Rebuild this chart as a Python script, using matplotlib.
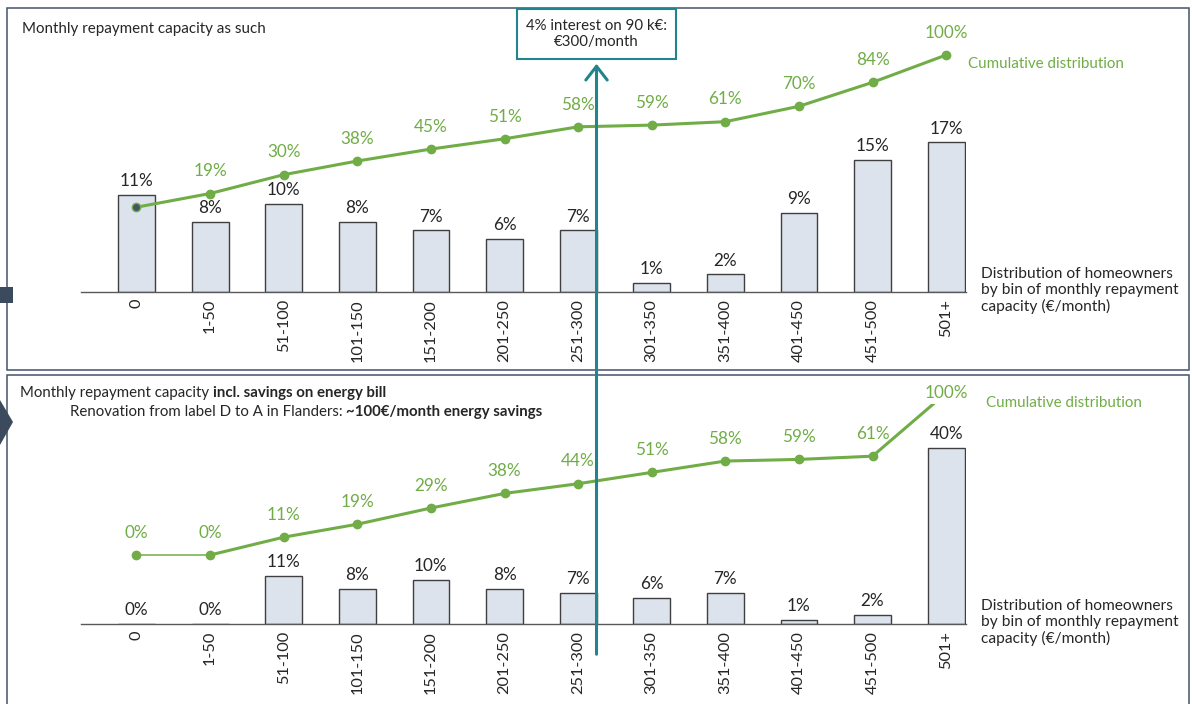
import numpy as np
import matplotlib
matplotlib.use('Agg')
from matplotlib import pyplot as plt
from matplotlib.patches import Rectangle, Polygon, FancyArrowPatch
from matplotlib.transforms import blended_transform_factory

plt.rcParams['font.family'] = ['Lato', 'DejaVu Sans']

# bins of monthly repayment capacity (EUR/month)
bins = ['0', '1-50', '51-100', '101-150', '151-200', '201-250', '251-300',
        '301-350', '351-400', '401-450', '451-500', '501+']

# share of homeowners per bin (%) and cumulative share (%)
share_as_such = [11, 8, 10, 8, 7, 6, 7, 1, 2, 9, 15, 17]
cum_as_such = [11, 19, 30, 38, 45, 51, 58, 59, 61, 70, 84, 100]
share_savings = [0, 0, 11, 8, 10, 8, 7, 6, 7, 1, 2, 40]
cum_savings = [0, 0, 11, 19, 29, 38, 44, 51, 58, 59, 61, 100]

threshold_bin = 6      # 251-300 bin, arrow sits on its upper edge (300 EUR)

W, H = 1192, 704
GREEN = '#70AD47'
TEAL = '#23858C'
FRAME = '#44546A'
BAR_FILL = '#DCE3ED'
BAR_EDGE = '#3F3F3F'
TXT = '#262626'
BAR_W = 0.5
FS_VAL = 12.3


def px_rect(left, top, right, bottom):
    return [left / W, 1 - bottom / H, (right - left) / W, (bottom - top) / H]


def fx(px):
    return px / W


def fy(py):
    return 1 - py / H


def draw_panel(fig, rect, shares, cum, bar_ylim, cum_ylim, first_dark):
    x = np.arange(len(bins))
    ax = fig.add_axes(rect)
    ax.bar(x, shares, width=BAR_W, color=BAR_FILL, edgecolor=BAR_EDGE, lw=1.0, zorder=2)
    ax.set_xlim(-0.754, 11.27)
    ax.set_ylim(*bar_ylim)
    for s in ['top', 'left', 'right']:
        ax.spines[s].set_visible(False)
    ax.spines['bottom'].set_color('#595959')
    ax.spines['bottom'].set_linewidth(1.0)
    ax.set_yticks([])
    ax.set_xticks(x, bins, rotation=90, fontsize=11.8, color=TXT)
    ax.tick_params(axis='x', length=0, pad=5)
    ax.patch.set_alpha(0)
    for i, v in enumerate(shares):
        ax.annotate(f'{v}%', (i, v), xytext=(0, 10), textcoords='offset points',
                    ha='center', va='center', fontsize=FS_VAL, color=TXT)

    ax2 = ax.twinx()
    ax2.set_ylim(*cum_ylim)
    ax2.axis('off')
    if first_dark:
        ax2.plot(x, cum, color=GREEN, lw=2.2, zorder=3)
        ax2.plot(x[1:], cum[1:], 'o', color=GREEN, ms=6, zorder=4)
        ax2.plot(x[:1], cum[:1], 'o', color=FRAME, mec=GREEN, ms=6, zorder=4)
    else:
        ax2.plot(x[:2], cum[:2], color=GREEN, lw=1.1, zorder=3)
        ax2.plot(x[1:], cum[1:], color=GREEN, lw=2.2, zorder=3)
        ax2.plot(x, cum, 'o', color=GREEN, ms=6, zorder=4)
    for i, v in enumerate(cum):
        if first_dark and i == 0:
            continue
        if not first_dark and i == len(cum) - 1:
            ax2.annotate(f'{v}%', (i, v), ha='center', va='center', fontsize=FS_VAL,
                         color=GREEN, zorder=5,
                         bbox=dict(boxstyle='square,pad=0.15', fc='white', ec='none'))
            continue
        ax2.annotate(f'{v}%', (i, v), xytext=(0, 16), textcoords='offset points',
                     ha='center', va='center', fontsize=FS_VAL, color=GREEN)
    return ax, ax2


fig = plt.figure(figsize=(W / 100, H / 100), dpi=100)

# slide frames around the two charts
fig.add_artist(Rectangle((fx(7), fy(370)), fx(1182), 362 / H, transform=fig.transFigure,
                         fill=False, ec=FRAME, lw=1.1))
fig.add_artist(Rectangle((fx(7), fy(740)), fx(1182), 365 / H, transform=fig.transFigure,
                         fill=False, ec=FRAME, lw=1.1))
# bits of slide shapes peeking in on the left
fig.add_artist(Rectangle((0, fy(303)), fx(13), 16 / H, transform=fig.transFigure,
                         color='#3B4A5C', lw=0))
fig.add_artist(Polygon([(0, fy(400)), (fx(13), fy(422)), (0, fy(445))],
                       closed=True, transform=fig.transFigure, color='#3B4A5C', lw=0))

# top chart: baseline at 292px, bars 8.8 px per %, cumulative 0% at 226px, 1.71 px per %
ax_top, ax_top2 = draw_panel(fig, px_rect(81, 40, 966, 292), share_as_such, cum_as_such,
                             (0, 252 / 8.8), (-66 / 1.71, 186 / 1.71), True)
# bottom chart: baseline at 624px, bars 4.4 px per %, cumulative 0% at 555px, 1.62 px per %
ax_bot, ax_bot2 = draw_panel(fig, px_rect(81, 385, 966, 624), share_savings, cum_savings,
                             (0, 239 / 4.4), (-69 / 1.62, 170 / 1.62), False)

# titles
fig.text(fx(22), fy(29), 'Monthly repayment capacity as such', fontsize=10.9, color=TXT,
         va='center', ha='left')
t1 = fig.text(fx(20), fy(397), 'Monthly repayment capacity ', fontsize=10.8, color=TXT,
              va='baseline', ha='left')
ax_bot.annotate('incl. savings on energy bill', xy=(1, 0), xycoords=t1, fontsize=10.8,
                fontweight='bold', color=TXT, va='bottom', ha='left', annotation_clip=False)
t2 = fig.text(fx(70), fy(416), 'Renovation from label D to A in Flanders: ', fontsize=10.8,
              color=TXT, va='baseline', ha='left')
ax_bot.annotate('~100\u20ac/month energy savings', xy=(1, 0), xycoords=t2, fontsize=10.8,
                fontweight='bold', color=TXT, va='bottom', ha='left', annotation_clip=False)

# side notes
fig.text(fx(968), fy(64), 'Cumulative distribution', fontsize=10.9, color=GREEN, va='center')
fig.text(fx(986), fy(403), 'Cumulative distribution', fontsize=10.9, color=GREEN, va='center')
note = 'Distribution of homeowners\nby bin of monthly repayment\ncapacity (\u20ac/month)'
fig.text(fx(981), fy(267), note, fontsize=11.2, color=TXT, va='top', linespacing=1.18)
fig.text(fx(981), fy(599), note, fontsize=11.2, color=TXT, va='top', linespacing=1.18)

# 300 EUR/month threshold arrow crossing both charts
x_thr = threshold_bin + BAR_W / 2
trans = blended_transform_factory(ax_bot.transData, fig.transFigure)
fig.add_artist(FancyArrowPatch((x_thr, fy(657)), (x_thr, fy(61)), transform=trans,
                               arrowstyle='->,head_length=0.45,head_width=0.35',
                               mutation_scale=22, color=TEAL, lw=2.2, zorder=10))
fig.text(x_thr, fy(34), '4% interest on 90 k\u20ac:\n\u20ac300/month', transform=trans,
         ha='center', va='center', fontsize=10.8, color=TXT, linespacing=1.25, zorder=11,
         bbox=dict(boxstyle='square,pad=0.62', fc='white', ec=TEAL, lw=1.5))

fig.savefig('out.png', dpi=100)
